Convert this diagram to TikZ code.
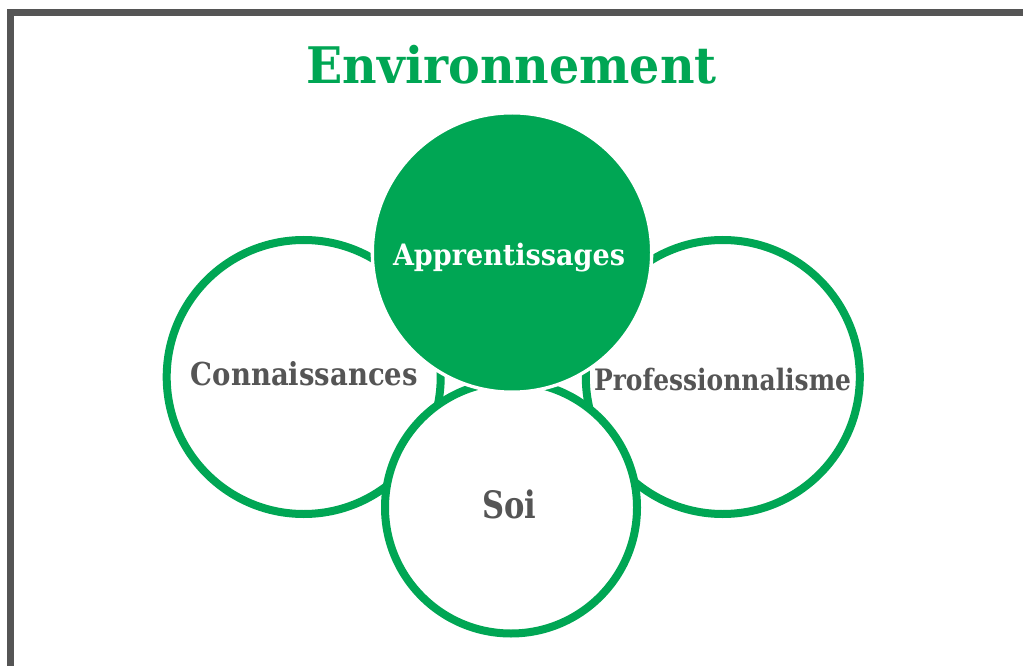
\documentclass[tikz,border=0pt]{standalone}
\usepackage{fontspec}
\usepackage{graphicx}
\setmainfont{DejaVu Serif}
\definecolor{vert}{RGB}{0,166,84}
\definecolor{gris}{RGB}{85,85,85}
\newcommand{\fitw}[2]{\resizebox{#1}{\height}{#2}}
\tikzset{
  ring/.style={circle, draw=vert, line width=6pt, fill=white, inner sep=0pt, outer sep=0pt},
  lbl/.style={anchor=base, inner sep=0pt, outer sep=0pt, text=gris, font=\bfseries},
  frame/.style={draw=gris, line width=5.25pt}
}
\begin{document}
\begin{tikzpicture}[x=0.75pt,y=-0.75pt]
\useasboundingbox (0,0) rectangle (1023,666);
% frame
\coordinate (fbl) at (10.5,666);
\coordinate (ftr) at (1023,12.5);
\draw[frame] (fbl) -- (10.5,9) ;
\draw[frame] (7,12.5) -- (ftr);
% circles
\node[ring, minimum size=205.5pt] (conn) at (303.7,377) {};
\node[ring, minimum size=205.5pt] (prof) at (722.8,377) {};
\node[ring, minimum size=189pt] (soi) at (511,507.5) {};
\node[circle, fill=vert, draw=white, line width=2.5pt, minimum size=209.5pt, inner sep=0pt, outer sep=0pt] (app) at (512,252.5) {};
% texts
\node[lbl, text=vert, font=\fontsize{37.8}{40}\bfseries\selectfont] (title) at (511.7,84) {\fitw{307.5pt}{Environnement}};
\node[lbl, text=white, font=\fontsize{22.1}{24}\bfseries\selectfont] (tapp) at (509,265.7) {\fitw{174pt}{Apprentissages}};
\node[lbl, font=\fontsize{23.7}{26}\bfseries\selectfont] (tconn) at (304.4,385.7) {\fitw{170.25pt}{Connaissances}};
\node[lbl, font=\fontsize{22.1}{24}\bfseries\selectfont] (tprof) at (722.5,390.7) {\fitw{192.75pt}{Professionnalisme}};
\node[lbl, font=\fontsize{28.3}{30}\bfseries\selectfont] (tsoi) at (509.5,518.3) {\fitw{40.5pt}{Soi}};
\end{tikzpicture}
\end{document}
